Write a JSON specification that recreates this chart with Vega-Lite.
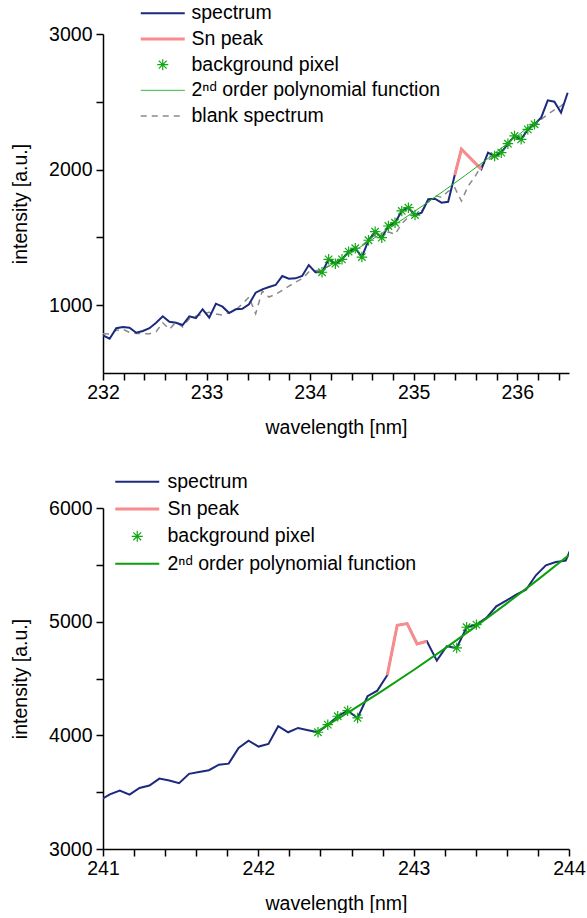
{
  "$schema": "https://vega.github.io/schema/vega-lite/v6.json",
  "background": "white",
  "padding": {"left": 10, "top": 3, "right": 0, "bottom": 0},
  "spacing": 35,
  "resolve": {"scale": {"color": "independent"}, "legend": {"color": "independent"}},
  "config": {
    "font": "Liberation Sans",
    "view": {"stroke": null},
    "axis": {
      "labelFont": "Liberation Sans", "labelFontSize": 19.5, "labelColor": "black",
      "titleFont": "Liberation Sans", "titleFontSize": 19.5, "titleFontWeight": "normal", "titleColor": "black",
      "domainColor": "black", "domainWidth": 1.5, "tickColor": "black", "tickWidth": 1.5, "tickSize": 7,
      "grid": false, "labelFlush": false, "labelOverlap": false
    },
    "legend": {
      "labelFont": "Liberation Sans", "labelFontSize": 19.5, "labelColor": "black", "labelLimit": 500,
      "padding": 0, "symbolOffset": 0, "symbolSize": 121, "symbolType": "stroke"
    }
  },
  "vconcat": [
    {
      "width": 466,
      "height": 339,
      "data": {"values": [
        {"s":"blank spectrum","wl":232.000,"I":790},{"s":"blank spectrum","wl":232.064,"I":787},{"s":"blank spectrum","wl":232.128,"I":815},{"s":"blank spectrum","wl":232.192,"I":822},{"s":"blank spectrum","wl":232.256,"I":800},{"s":"blank spectrum","wl":232.321,"I":792},{"s":"blank spectrum","wl":232.385,"I":790},{"s":"blank spectrum","wl":232.449,"I":790},{"s":"blank spectrum","wl":232.513,"I":805},{"s":"blank spectrum","wl":232.577,"I":870},{"s":"blank spectrum","wl":232.641,"I":822},{"s":"blank spectrum","wl":232.705,"I":875},{"s":"blank spectrum","wl":232.769,"I":840},{"s":"blank spectrum","wl":232.833,"I":900},{"s":"blank spectrum","wl":232.897,"I":918},{"s":"blank spectrum","wl":232.962,"I":935},{"s":"blank spectrum","wl":233.026,"I":947},{"s":"blank spectrum","wl":233.090,"I":935},{"s":"blank spectrum","wl":233.154,"I":927},{"s":"blank spectrum","wl":233.218,"I":945},{"s":"blank spectrum","wl":233.282,"I":965},{"s":"blank spectrum","wl":233.346,"I":1010},{"s":"blank spectrum","wl":233.410,"I":1060},{"s":"blank spectrum","wl":233.474,"I":937},{"s":"blank spectrum","wl":233.538,"I":1105},{"s":"blank spectrum","wl":233.603,"I":1060},{"s":"blank spectrum","wl":233.667,"I":1080},{"s":"blank spectrum","wl":233.731,"I":1110},{"s":"blank spectrum","wl":233.795,"I":1140},{"s":"blank spectrum","wl":233.859,"I":1170},{"s":"blank spectrum","wl":233.923,"I":1195},{"s":"blank spectrum","wl":233.987,"I":1245},{"s":"blank spectrum","wl":234.051,"I":1255},{"s":"blank spectrum","wl":234.115,"I":1262},{"s":"blank spectrum","wl":234.179,"I":1290},{"s":"blank spectrum","wl":234.244,"I":1320},{"s":"blank spectrum","wl":234.308,"I":1348},{"s":"blank spectrum","wl":234.372,"I":1385},{"s":"blank spectrum","wl":234.436,"I":1424},{"s":"blank spectrum","wl":234.500,"I":1440},{"s":"blank spectrum","wl":234.564,"I":1480},{"s":"blank spectrum","wl":234.628,"I":1520},{"s":"blank spectrum","wl":234.692,"I":1490},{"s":"blank spectrum","wl":234.756,"I":1540},{"s":"blank spectrum","wl":234.820,"I":1523},{"s":"blank spectrum","wl":234.885,"I":1600},{"s":"blank spectrum","wl":234.949,"I":1650},{"s":"blank spectrum","wl":235.013,"I":1670},{"s":"blank spectrum","wl":235.077,"I":1695},{"s":"blank spectrum","wl":235.141,"I":1760},{"s":"blank spectrum","wl":235.205,"I":1810},{"s":"blank spectrum","wl":235.269,"I":1795},{"s":"blank spectrum","wl":235.333,"I":1840},{"s":"blank spectrum","wl":235.397,"I":1866},{"s":"blank spectrum","wl":235.461,"I":1768},{"s":"blank spectrum","wl":235.526,"I":1879},{"s":"blank spectrum","wl":235.590,"I":1945},{"s":"blank spectrum","wl":235.654,"I":2030},{"s":"blank spectrum","wl":235.718,"I":2070},{"s":"blank spectrum","wl":235.782,"I":2105},{"s":"blank spectrum","wl":235.846,"I":2140},{"s":"blank spectrum","wl":235.910,"I":2175},{"s":"blank spectrum","wl":235.974,"I":2220},{"s":"blank spectrum","wl":236.038,"I":2250},{"s":"blank spectrum","wl":236.102,"I":2290},{"s":"blank spectrum","wl":236.167,"I":2320},{"s":"blank spectrum","wl":236.231,"I":2370},{"s":"blank spectrum","wl":236.295,"I":2408},{"s":"blank spectrum","wl":236.359,"I":2440},{"s":"blank spectrum","wl":236.423,"I":2470},{"s":"blank spectrum","wl":236.487,"I":2510},
        {"s":"spectrum","wl":232.000,"I":778},{"s":"spectrum","wl":232.064,"I":753},{"s":"spectrum","wl":232.128,"I":830},{"s":"spectrum","wl":232.192,"I":839},{"s":"spectrum","wl":232.256,"I":834},{"s":"spectrum","wl":232.321,"I":797},{"s":"spectrum","wl":232.385,"I":810},{"s":"spectrum","wl":232.449,"I":830},{"s":"spectrum","wl":232.513,"I":871},{"s":"spectrum","wl":232.577,"I":918},{"s":"spectrum","wl":232.641,"I":878},{"s":"spectrum","wl":232.705,"I":871},{"s":"spectrum","wl":232.769,"I":854},{"s":"spectrum","wl":232.833,"I":918},{"s":"spectrum","wl":232.897,"I":905},{"s":"spectrum","wl":232.962,"I":970},{"s":"spectrum","wl":233.026,"I":908},{"s":"spectrum","wl":233.090,"I":1011},{"s":"spectrum","wl":233.154,"I":989},{"s":"spectrum","wl":233.218,"I":942},{"s":"spectrum","wl":233.282,"I":970},{"s":"spectrum","wl":233.346,"I":974},{"s":"spectrum","wl":233.410,"I":1007},{"s":"spectrum","wl":233.474,"I":1092},{"s":"spectrum","wl":233.538,"I":1117},{"s":"spectrum","wl":233.603,"I":1134},{"s":"spectrum","wl":233.667,"I":1149},{"s":"spectrum","wl":233.731,"I":1215},{"s":"spectrum","wl":233.795,"I":1195},{"s":"spectrum","wl":233.859,"I":1198},{"s":"spectrum","wl":233.923,"I":1215},{"s":"spectrum","wl":233.987,"I":1296},{"s":"spectrum","wl":234.051,"I":1243},{"s":"spectrum","wl":234.115,"I":1243},{"s":"spectrum","wl":234.179,"I":1338},{"s":"spectrum","wl":234.244,"I":1306},{"s":"spectrum","wl":234.308,"I":1338},{"s":"spectrum","wl":234.372,"I":1395},{"s":"spectrum","wl":234.436,"I":1420},{"s":"spectrum","wl":234.500,"I":1355},{"s":"spectrum","wl":234.564,"I":1479},{"s":"spectrum","wl":234.628,"I":1542},{"s":"spectrum","wl":234.692,"I":1498},{"s":"spectrum","wl":234.756,"I":1584},{"s":"spectrum","wl":234.820,"I":1608},{"s":"spectrum","wl":234.885,"I":1695},{"s":"spectrum","wl":234.949,"I":1719},{"s":"spectrum","wl":235.013,"I":1665},{"s":"spectrum","wl":235.077,"I":1682},{"s":"spectrum","wl":235.141,"I":1781},{"s":"spectrum","wl":235.205,"I":1785},{"s":"spectrum","wl":235.269,"I":1756},{"s":"spectrum","wl":235.333,"I":1763},{"s":"spectrum","wl":235.397,"I":1960},{"s":"spectrum","wl":235.461,"I":2150},{"s":"spectrum","wl":235.526,"I":2100},{"s":"spectrum","wl":235.590,"I":2051},{"s":"spectrum","wl":235.654,"I":2002},{"s":"spectrum","wl":235.718,"I":2125},{"s":"spectrum","wl":235.782,"I":2100},{"s":"spectrum","wl":235.846,"I":2125},{"s":"spectrum","wl":235.910,"I":2191},{"s":"spectrum","wl":235.974,"I":2248},{"s":"spectrum","wl":236.038,"I":2223},{"s":"spectrum","wl":236.102,"I":2297},{"s":"spectrum","wl":236.167,"I":2334},{"s":"spectrum","wl":236.231,"I":2383},{"s":"spectrum","wl":236.295,"I":2511},{"s":"spectrum","wl":236.359,"I":2501},{"s":"spectrum","wl":236.423,"I":2420},{"s":"spectrum","wl":236.487,"I":2567},
        {"s":"Sn peak","wl":235.397,"I":1960},{"s":"Sn peak","wl":235.461,"I":2150},{"s":"Sn peak","wl":235.526,"I":2100},{"s":"Sn peak","wl":235.590,"I":2051},{"s":"Sn peak","wl":235.654,"I":2002},
        {"s":"2ⁿᵈ order polynomial function","wl":234.115,"I":1257},{"s":"2ⁿᵈ order polynomial function","wl":234.3,"I":1342},{"s":"2ⁿᵈ order polynomial function","wl":234.5,"I":1436},{"s":"2ⁿᵈ order polynomial function","wl":234.7,"I":1535},{"s":"2ⁿᵈ order polynomial function","wl":234.9,"I":1636},{"s":"2ⁿᵈ order polynomial function","wl":235.1,"I":1740},{"s":"2ⁿᵈ order polynomial function","wl":235.3,"I":1848},{"s":"2ⁿᵈ order polynomial function","wl":235.5,"I":1958},{"s":"2ⁿᵈ order polynomial function","wl":235.7,"I":2072},{"s":"2ⁿᵈ order polynomial function","wl":235.9,"I":2189},{"s":"2ⁿᵈ order polynomial function","wl":236.1,"I":2309},{"s":"2ⁿᵈ order polynomial function","wl":236.167,"I":2350},
        {"s":"background pixel","wl":234.115,"I":1243},{"s":"background pixel","wl":234.179,"I":1338},{"s":"background pixel","wl":234.244,"I":1306},{"s":"background pixel","wl":234.308,"I":1338},{"s":"background pixel","wl":234.372,"I":1395},{"s":"background pixel","wl":234.436,"I":1420},{"s":"background pixel","wl":234.500,"I":1355},{"s":"background pixel","wl":234.564,"I":1479},{"s":"background pixel","wl":234.628,"I":1542},{"s":"background pixel","wl":234.692,"I":1498},{"s":"background pixel","wl":234.756,"I":1584},{"s":"background pixel","wl":234.820,"I":1608},{"s":"background pixel","wl":234.885,"I":1695},{"s":"background pixel","wl":234.949,"I":1719},{"s":"background pixel","wl":235.013,"I":1665},{"s":"background pixel","wl":235.782,"I":2100},{"s":"background pixel","wl":235.846,"I":2125},{"s":"background pixel","wl":235.910,"I":2191},{"s":"background pixel","wl":235.974,"I":2248},{"s":"background pixel","wl":236.038,"I":2223},{"s":"background pixel","wl":236.102,"I":2297},{"s":"background pixel","wl":236.167,"I":2334}
      ]},
      "encoding": {
        "x": {"field": "wl", "type": "quantitative", "scale": {"domain": [232, 236.5], "nice": false, "zero": false},
          "axis": {"title": "wavelength [nm]", "labelPadding": 3, "titlePadding": 17, "tickCount": 100, "tickMinStep": 0.1,
            "values": [232,232.2,232.4,232.6,232.8,233,233.2,233.4,233.6,233.8,234,234.2,234.4,234.6,234.8,235,235.2,235.4,235.6,235.8,236,236.2,236.4],
            "labelExpr": "abs(datum.value - round(datum.value)) < 0.01 ? format(datum.value, 'd') : ''",
            "encode": {"ticks": {"update": {"y2": {"signal": "abs(datum.value - round(datum.value)) < 0.01 ? 7 : 5"}}}}}},
        "y": {"field": "I", "type": "quantitative", "scale": {"domain": [500, 3000], "nice": false, "zero": false},
          "axis": {"title": "intensity [a.u.]", "format": "d", "labelPadding": 4, "titlePadding": 18, "tickCount": 100,
            "values": [1000,1500,2000,2500,3000],
            "labelExpr": "datum.value % 1000 === 0 ? datum.label : ''",
            "encode": {"ticks": {"update": {"x2": {"signal": "datum.value % 1000 === 0 ? -7 : -5"}}}}}},
        "color": {"field": "s", "type": "nominal",
          "scale": {"domain": ["spectrum","Sn peak","background pixel","2ⁿᵈ order polynomial function","blank spectrum"], "range": ["#1b2a7c","#f88b8b","#12a812","#1fae1f","#8a8a8a"]},
          "legend": {"orient": "none", "legendX": 33.5, "legendY": -30.5, "title": null, "rowPadding": 4.7, "labelOffset": 35.5,
            "encode": {"symbols": {"update": {
              "shape": {"signal": "datum.value === 'background pixel' ? 'M2,0H4M3,-1V1M2.29,-0.71L3.71,0.71M2.29,0.71L3.71,-0.71' : 'M-1,0H7'"},
              "strokeWidth": {"signal": "datum.value === 'Sn peak' ? 3 : datum.value === 'spectrum' ? 2 : datum.value === 'blank spectrum' ? 1.5 : datum.value === 'background pixel' ? 1.2 : 1"},
              "strokeDash": {"signal": "datum.value === 'blank spectrum' ? [6,5] : [1,0]"},
              "fill": {"value": "transparent"}}}}}}
      },
      "layer": [
        {"transform": [{"filter": "datum.s === 'blank spectrum'"}], "mark": {"type": "line", "strokeWidth": 1.5, "strokeDash": [6, 5], "clip": true}},
        {"transform": [{"filter": "datum.s === 'spectrum'"}], "mark": {"type": "line", "strokeWidth": 2, "clip": true}},
        {"transform": [{"filter": "datum.s === 'Sn peak'"}], "mark": {"type": "line", "strokeWidth": 3, "clip": true}},
        {"transform": [{"filter": "datum.s === '2ⁿᵈ order polynomial function'"}], "mark": {"type": "line", "strokeWidth": 1, "clip": true}},
        {"transform": [{"filter": "datum.s === 'background pixel'"}], "mark": {"type": "point", "filled": false, "opacity": 1, "strokeWidth": 1.2, "size": 110, "shape": "M-1,0H1M0,-1V1M-0.71,-0.71L0.71,0.71M-0.71,0.71L0.71,-0.71", "clip": true}}
      ]
    },
    {
      "width": 466,
      "height": 341,
      "data": {"values": [
        {"s":"spectrum","wl":240.980,"I":3430},{"s":"spectrum","wl":241.044,"I":3480},{"s":"spectrum","wl":241.108,"I":3514},{"s":"spectrum","wl":241.171,"I":3479},{"s":"spectrum","wl":241.235,"I":3537},{"s":"spectrum","wl":241.299,"I":3558},{"s":"spectrum","wl":241.363,"I":3619},{"s":"spectrum","wl":241.427,"I":3602},{"s":"spectrum","wl":241.490,"I":3579},{"s":"spectrum","wl":241.554,"I":3661},{"s":"spectrum","wl":241.618,"I":3678},{"s":"spectrum","wl":241.682,"I":3693},{"s":"spectrum","wl":241.746,"I":3742},{"s":"spectrum","wl":241.809,"I":3751},{"s":"spectrum","wl":241.873,"I":3889},{"s":"spectrum","wl":241.937,"I":3953},{"s":"spectrum","wl":242.001,"I":3901},{"s":"spectrum","wl":242.065,"I":3924},{"s":"spectrum","wl":242.128,"I":4080},{"s":"spectrum","wl":242.192,"I":4027},{"s":"spectrum","wl":242.256,"I":4065},{"s":"spectrum","wl":242.320,"I":4045},{"s":"spectrum","wl":242.384,"I":4027},{"s":"spectrum","wl":242.447,"I":4094},{"s":"spectrum","wl":242.511,"I":4168},{"s":"spectrum","wl":242.575,"I":4217},{"s":"spectrum","wl":242.639,"I":4153},{"s":"spectrum","wl":242.703,"I":4344},{"s":"spectrum","wl":242.766,"I":4393},{"s":"spectrum","wl":242.830,"I":4529},{"s":"spectrum","wl":242.894,"I":4968},{"s":"spectrum","wl":242.958,"I":4983},{"s":"spectrum","wl":243.022,"I":4804},{"s":"spectrum","wl":243.085,"I":4828},{"s":"spectrum","wl":243.149,"I":4657},{"s":"spectrum","wl":243.213,"I":4784},{"s":"spectrum","wl":243.277,"I":4769},{"s":"spectrum","wl":243.341,"I":4951},{"s":"spectrum","wl":243.404,"I":4974},{"s":"spectrum","wl":243.468,"I":5033},{"s":"spectrum","wl":243.532,"I":5135},{"s":"spectrum","wl":243.596,"I":5185},{"s":"spectrum","wl":243.660,"I":5238},{"s":"spectrum","wl":243.723,"I":5281},{"s":"spectrum","wl":243.787,"I":5408},{"s":"spectrum","wl":243.851,"I":5496},{"s":"spectrum","wl":243.915,"I":5525},{"s":"spectrum","wl":243.979,"I":5537},{"s":"spectrum","wl":244.042,"I":5740},
        {"s":"Sn peak","wl":242.830,"I":4529},{"s":"Sn peak","wl":242.894,"I":4968},{"s":"Sn peak","wl":242.958,"I":4983},{"s":"Sn peak","wl":243.022,"I":4804},{"s":"Sn peak","wl":243.085,"I":4828},
        {"s":"2ⁿᵈ order polynomial function","wl":242.384,"I":4038},{"s":"2ⁿᵈ order polynomial function","wl":242.6,"I":4219},{"s":"2ⁿᵈ order polynomial function","wl":242.8,"I":4393},{"s":"2ⁿᵈ order polynomial function","wl":243.0,"I":4575},{"s":"2ⁿᵈ order polynomial function","wl":243.2,"I":4763},{"s":"2ⁿᵈ order polynomial function","wl":243.4,"I":4959},{"s":"2ⁿᵈ order polynomial function","wl":243.6,"I":5161},{"s":"2ⁿᵈ order polynomial function","wl":243.8,"I":5370},{"s":"2ⁿᵈ order polynomial function","wl":244.0,"I":5586},
        {"s":"background pixel","wl":242.384,"I":4027},{"s":"background pixel","wl":242.447,"I":4094},{"s":"background pixel","wl":242.511,"I":4168},{"s":"background pixel","wl":242.575,"I":4217},{"s":"background pixel","wl":242.639,"I":4153},{"s":"background pixel","wl":243.277,"I":4769},{"s":"background pixel","wl":243.341,"I":4951},{"s":"background pixel","wl":243.404,"I":4974}
      ]},
      "encoding": {
        "x": {"field": "wl", "type": "quantitative", "scale": {"domain": [241, 244], "nice": false, "zero": false},
          "axis": {"title": "wavelength [nm]", "labelPadding": 3, "titlePadding": 17, "tickCount": 100, "tickMinStep": 0.1,
            "values": [241,241.2,241.4,241.6,241.8,242,242.2,242.4,242.6,242.8,243,243.2,243.4,243.6,243.8,244],
            "labelExpr": "abs(datum.value - round(datum.value)) < 0.01 ? format(datum.value, 'd') : ''",
            "encode": {"ticks": {"update": {"y2": {"signal": "abs(datum.value - round(datum.value)) < 0.01 ? 7 : 5"}}}}}},
        "y": {"field": "I", "type": "quantitative", "scale": {"domain": [3000, 6000], "nice": false, "zero": false},
          "axis": {"title": "intensity [a.u.]", "format": "d", "labelPadding": 4, "titlePadding": 18, "tickCount": 100,
            "values": [3000,3500,4000,4500,5000,5500,6000],
            "labelExpr": "datum.value % 1000 === 0 ? datum.label : ''",
            "encode": {"ticks": {"update": {"x2": {"signal": "datum.value % 1000 === 0 ? -7 : -5"}}}}}},
        "color": {"field": "s", "type": "nominal",
          "scale": {"domain": ["spectrum","Sn peak","background pixel","2ⁿᵈ order polynomial function"], "range": ["#1b2a7c","#f88b8b","#12a812","#0aa00a"]},
          "legend": {"orient": "none", "legendX": 8, "legendY": -36, "title": null, "rowPadding": 6.3, "labelOffset": 37,
            "encode": {"symbols": {"update": {
              "shape": {"signal": "datum.value === 'background pixel' ? 'M2,0H4M3,-1V1M2.29,-0.71L3.71,0.71M2.29,0.71L3.71,-0.71' : 'M-1,0H7'"},
              "strokeWidth": {"signal": "datum.value === 'Sn peak' ? 3 : datum.value === 'spectrum' ? 2 : datum.value === 'background pixel' ? 1.2 : 2"},
              "fill": {"value": "transparent"}}}}}}
      },
      "layer": [
        {"transform": [{"filter": "datum.s === 'spectrum'"}], "mark": {"type": "line", "strokeWidth": 2, "clip": true}},
        {"transform": [{"filter": "datum.s === 'Sn peak'"}], "mark": {"type": "line", "strokeWidth": 3, "clip": true}},
        {"transform": [{"filter": "datum.s === '2ⁿᵈ order polynomial function'"}], "mark": {"type": "line", "strokeWidth": 2, "clip": true}},
        {"transform": [{"filter": "datum.s === 'background pixel'"}], "mark": {"type": "point", "filled": false, "opacity": 1, "strokeWidth": 1.2, "size": 110, "shape": "M-1,0H1M0,-1V1M-0.71,-0.71L0.71,0.71M-0.71,0.71L0.71,-0.71", "clip": true}}
      ]
    }
  ]
}
